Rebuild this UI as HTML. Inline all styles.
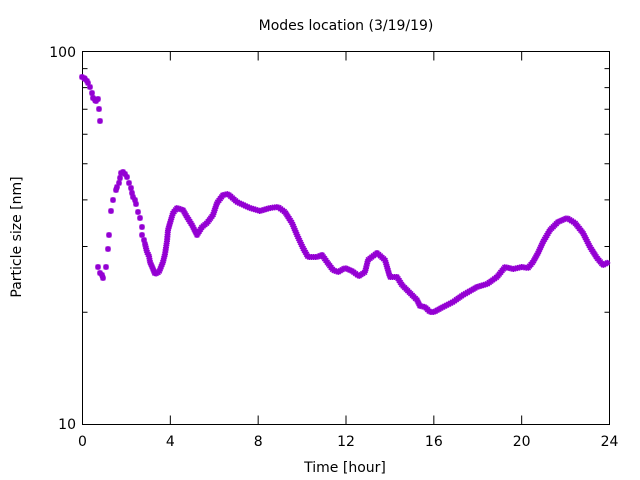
<!DOCTYPE html>
<html><head><meta charset="utf-8"><style>
body{margin:0;background:#fff;}
svg{display:block;font-family:"DejaVu Sans","Liberation Sans",sans-serif;font-size:14px;}
</style></head><body>
<svg id="s" width="640" height="480" xmlns="http://www.w3.org/2000/svg">
<rect width="640" height="480" fill="#fff"/>
<g id="ax" stroke="#000" stroke-width="1" fill="none"></g>
<rect x="82.5" y="51.5" width="527" height="373" fill="none" stroke="#000"/>
<text x="346" y="30" text-anchor="middle">Modes location (3/19/19)</text>
<text x="345" y="472" text-anchor="middle">Time [hour]</text>
<text transform="translate(21,237) rotate(-90)" text-anchor="middle">Particle size [nm]</text>
<text x="76" y="57" text-anchor="end">100</text>
<text x="76" y="429" text-anchor="end">10</text>
<g id="xl" text-anchor="middle"></g>
<path id="pts" fill="none" stroke="#9400d3" stroke-width="1.6"/>
</svg>
<script>
var ns="http://www.w3.org/2000/svg";
var ax=document.getElementById('ax'),xl=document.getElementById('xl');
var d="";
for(var i=0;i<=6;i++){var x=82.5+i*527/6;d+="M"+x+" 424.5v-9M"+x+" 51.5v9";
var t=document.createElementNS(ns,'text');t.setAttribute('x',x);t.setAttribute('y',446);t.textContent=i*4;xl.appendChild(t);}
for(var v=20;v<=90;v+=10){var y=424.5-373*Math.log10(v/10);d+="M82.5 "+y+"h5M609.5 "+y+"h-5";}
d+="M82.5 51.5h9M609.5 51.5h-9";
var p=document.createElementNS(ns,'path');p.setAttribute('d',d);ax.appendChild(p);
var pd="";
function mk(x,y){var r=3;pd+="M"+(x-r)+" "+y+"h"+2*r+"M"+x+" "+(y-r)+"v"+2*r+"M"+(x-2.3)+" "+(y-2.3)+"l4.6 4.6M"+(x-2.3)+" "+(y+2.3)+"l4.6 -4.6";}
var sparse=[[82,77],[84,78],[85,79],[87,81],[88,83],[90,87],[92,93],[93,98],[95,100],[96,101],[98,99],[99,109],[100,121],
[98,267],[100,273],[102,275],[103,278],[106,267],[108,249],[109,235],[111,211],[113,200],[116,190],[117,187],[119,183],[120,178],[121,173],[123,172],[125,174],[127,177],[129,183],[131,188],[132,193],[133,197],[135,200],[136,204],[138,212],[140,218],[142,227],[142,235],[144,240]];
sparse.forEach(function(q){mk(q[0],q[1]);});
var s=[[145,244],[147,252],[149,256],[150,262],[153,269],[155,274],[159,272],[163,262],[165,254],[167,241],[168,230],[170,223],[173,213],[177,208],[183,210],[187,217],[192,225],[197,235],[202,227],[207,223],[213,215],[217,203],[223,195],[228,194],[237,202],[250,208],[260,211],[270,208],[278,207],[285,212],[292,223],[297,235],[303,248],[308,257],[317,257],[322,255],[327,262],[333,270],[338,272],[345,268],[352,271],[359,276],[365,272],[368,260],[377,253],[385,260],[390,277],[397,277],[402,285],[410,293],[417,300],[420,306],[425,307],[430,312],[434,312],[443,307],[453,302],[463,295],[477,287],[487,284],[497,277],[505,267],[513,269],[522,267],[528,268],[533,262],[538,253],[543,242],[550,230],[558,222],[567,218],[575,223],[583,233],[590,247],[597,258],[603,265],[609,262]];
var st=2.2,acc=0;mk(s[0][0],s[0][1]);
for(var i=1;i<s.length;i++){var a=s[i-1],b=s[i];var L=Math.hypot(b[0]-a[0],b[1]-a[1]);
var t=st-acc;while(t<=L){mk(a[0]+(b[0]-a[0])*t/L,a[1]+(b[1]-a[1])*t/L);t+=st;}acc=L-(t-st);}
document.getElementById('pts').setAttribute('d',pd);
</script>
</body></html>
